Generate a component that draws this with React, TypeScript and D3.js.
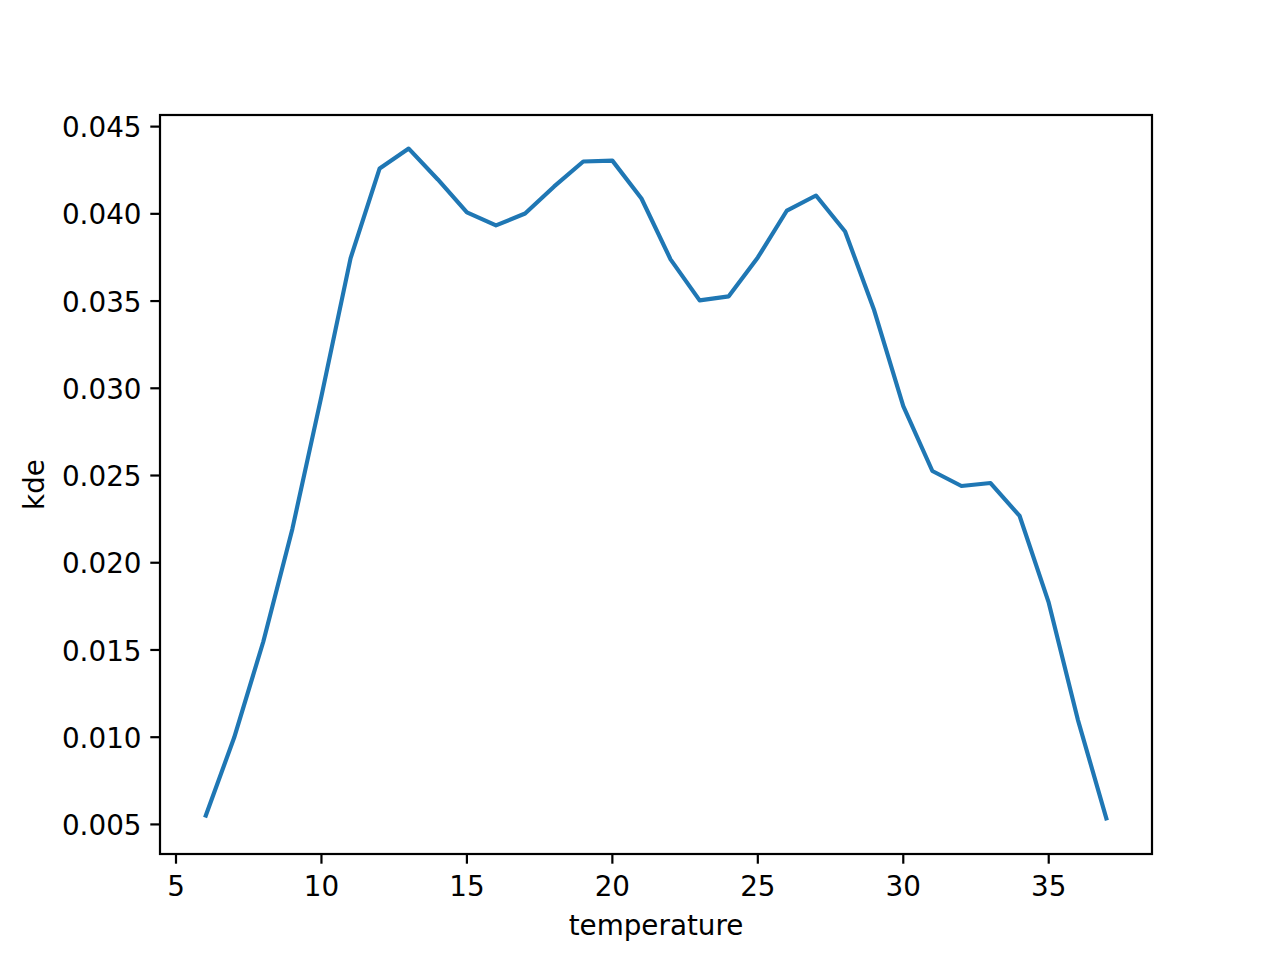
import React from 'react';
import * as d3 from 'd3';

const temperature = [6, 7, 8, 9, 10, 11, 12, 13, 14, 15, 16, 17, 18, 19, 20, 21, 22, 23, 24, 25, 26, 27, 28, 29, 30, 31, 32, 33, 34, 35, 36, 37];
const kde = [
  0.0054, 0.00998, 0.01547, 0.02194, 0.02955, 0.03745, 0.0426, 0.04374, 0.04197, 0.04008,
  0.03934, 0.04002, 0.04157, 0.0430, 0.04305, 0.04088, 0.03739, 0.03504, 0.03527, 0.0375,
  0.04019, 0.04105, 0.03899, 0.03447, 0.02898, 0.02526, 0.0244, 0.02457, 0.02268, 0.01771,
  0.01101, 0.00523
];
const xTicks = [5, 10, 15, 20, 25, 30, 35];
const yTicks = [0.005, 0.01, 0.015, 0.02, 0.025, 0.03, 0.035, 0.04, 0.045];

const W = 1280;
const H = 960;
const left = 160;
const right = 1152;
const top = 115;
const bottom = 854;
const font = 'DejaVu Sans, sans-serif';
const fs = 27.8;

export default function App() {
  const xMin = d3.min(temperature)!;
  const xMax = d3.max(temperature)!;
  const xm = (xMax - xMin) * 0.05;
  const yMin = d3.min(kde)!;
  const yMax = d3.max(kde)!;
  const ym = (yMax - yMin) * 0.05;

  const x = d3.scaleLinear().domain([xMin - xm, xMax + xm]).range([left, right]);
  const y = d3.scaleLinear().domain([yMin - ym, yMax + ym]).range([bottom, top]);

  const line = d3
    .line<number>()
    .x((d, i) => x(temperature[i]))
    .y(d => y(d));

  return (
    <svg width={W} height={H} style={{ position: 'absolute', left: 0, top: 0, background: '#fff' }}>
      <rect x={0} y={0} width={W} height={H} fill="#fff" />
      <path d={line(kde) || ''} fill="none" stroke="#1f77b4" strokeWidth={4.17} strokeLinejoin="round" strokeLinecap="butt" />
      <rect x={left} y={top} width={right - left} height={bottom - top} fill="none" stroke="#000" strokeWidth={2.2} />
      {xTicks.map(t => (
        <g key={'x' + t}>
          <line x1={x(t)} x2={x(t)} y1={bottom} y2={bottom + 9.7} stroke="#000" strokeWidth={2.2} />
          <text x={x(t)} y={896} textAnchor="middle" fontFamily={font} fontSize={fs} fill="#000">
            {t}
          </text>
        </g>
      ))}
      {yTicks.map(t => (
        <g key={'y' + t}>
          <line x1={left - 9.7} x2={left} y1={y(t)} y2={y(t)} stroke="#000" strokeWidth={2.2} />
          <text x={left - 18.5} y={y(t)} dy="0.38em" textAnchor="end" fontFamily={font} fontSize={fs} fill="#000">
            {t.toFixed(3)}
          </text>
        </g>
      ))}
      <text x={(left + right) / 2} y={935} textAnchor="middle" fontFamily={font} fontSize={fs} fill="#000">
        temperature
      </text>
      <text
        transform={`translate(44, ${(top + bottom) / 2}) rotate(-90)`}
        textAnchor="middle"
        fontFamily={font}
        fontSize={fs}
        fill="#000"
      >
        kde
      </text>
    </svg>
  );
}
